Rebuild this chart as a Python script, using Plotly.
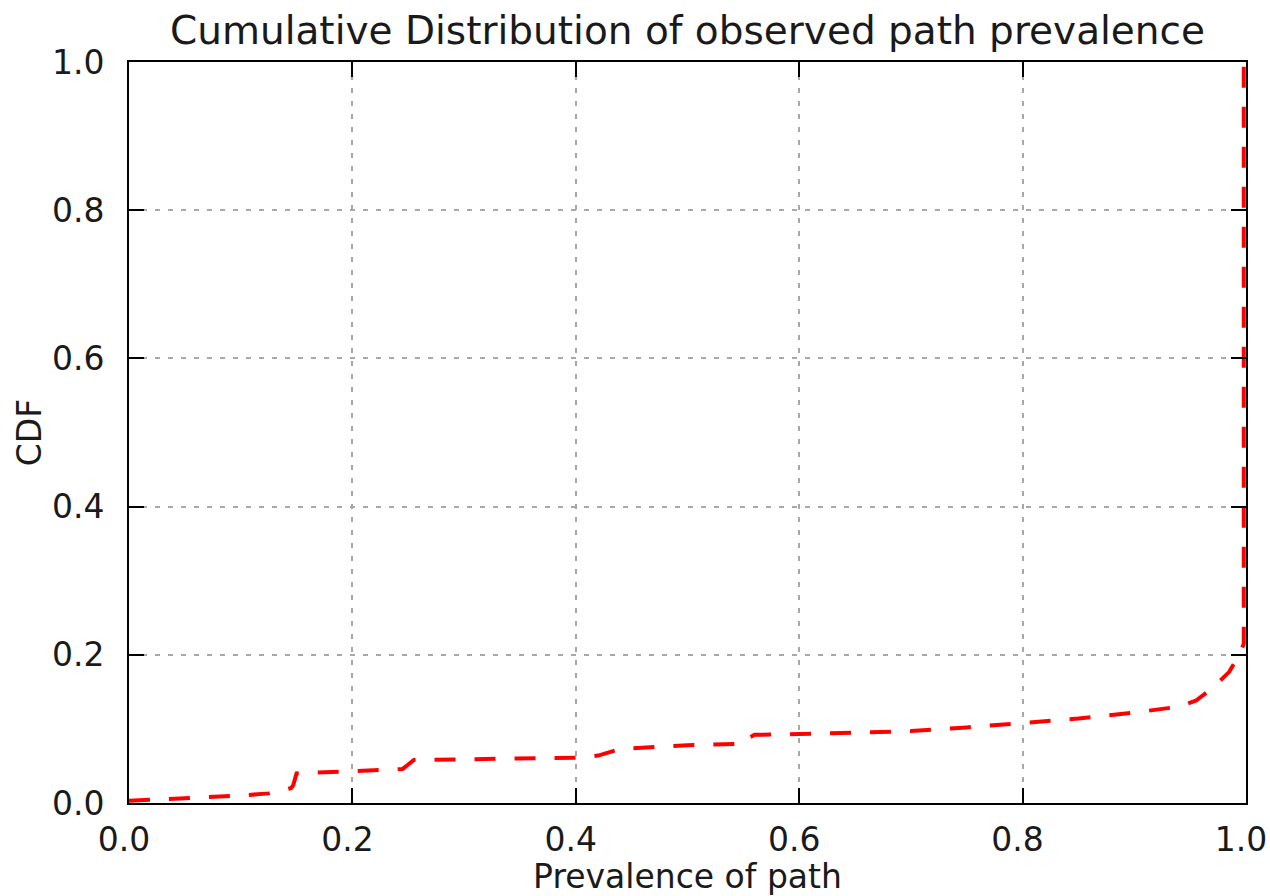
import plotly.graph_objects as go

# Empirical CDF of observed path prevalence
prevalence = [0.0, 0.05, 0.10, 0.125, 0.145, 0.147, 0.15, 0.20, 0.245, 0.25, 0.255,
              0.30, 0.35, 0.40, 0.42, 0.44, 0.50, 0.55, 0.555, 0.56, 0.60, 0.65,
              0.70, 0.75, 0.80, 0.85, 0.90, 0.94, 0.955, 0.97, 0.985, 0.994,
              0.998, 0.998]
cdf = [0.003, 0.006, 0.010, 0.013, 0.020, 0.024, 0.040, 0.043, 0.046, 0.052, 0.058,
       0.059, 0.060, 0.061, 0.064, 0.073, 0.078, 0.080, 0.088, 0.092, 0.093, 0.095,
       0.097, 0.102, 0.108, 0.114, 0.122, 0.130, 0.138, 0.155, 0.177, 0.200,
       0.215, 1.0]

tick_vals = [0.0, 0.2, 0.4, 0.6, 0.8, 1.0]
tick_text = ["0.0", "0.2", "0.4", "0.6", "0.8", "1.0"]

FONT = "DejaVu Sans"

fig = go.Figure()
fig.add_trace(go.Scatter(
    x=prevalence, y=cdf, mode="lines",
    line=dict(color="#ff0000", width=4, dash="21px,19px"),
    showlegend=False, hoverinfo="skip",
))

axis_common = dict(
    range=[0, 1],
    tickvals=tick_vals,
    ticktext=tick_text,
    showline=True, linecolor="black", linewidth=2, mirror="ticks",
    ticks="inside", ticklen=15, tickwidth=1.5, tickcolor="black",
    showgrid=True, gridcolor="#a8a8a8", gridwidth=1.5, griddash="5px,8px",
    zeroline=False,
    tickfont=dict(family=FONT, size=33, color="#1a1a1a"),
    ticklabeloverflow="allow",
    automargin=False,
)

fig.update_xaxes(**axis_common, ticklabelstandoff=6, ticklabelshift=-5,
                 title=dict(text="Prevalence of path", standoff=0,
                            font=dict(family=FONT, size=33, color="#1a1a1a")))
fig.update_yaxes(**axis_common, ticklabelstandoff=16,
                 title=dict(text="CDF", standoff=0,
                            font=dict(family=FONT, size=33, color="#1a1a1a")))

fig.update_layout(
    width=1270, height=896,
    margin=dict(l=129, r=24, t=62, b=93),
    paper_bgcolor="white", plot_bgcolor="white",
    title=dict(text="Cumulative Distribution of observed path prevalence",
               x=0.5, xref="paper", xanchor="center",
               y=1, yref="paper", yanchor="bottom", pad=dict(b=18),
               font=dict(family=FONT, size=39, color="#1a1a1a")),
)

fig.write_html("out.html")
